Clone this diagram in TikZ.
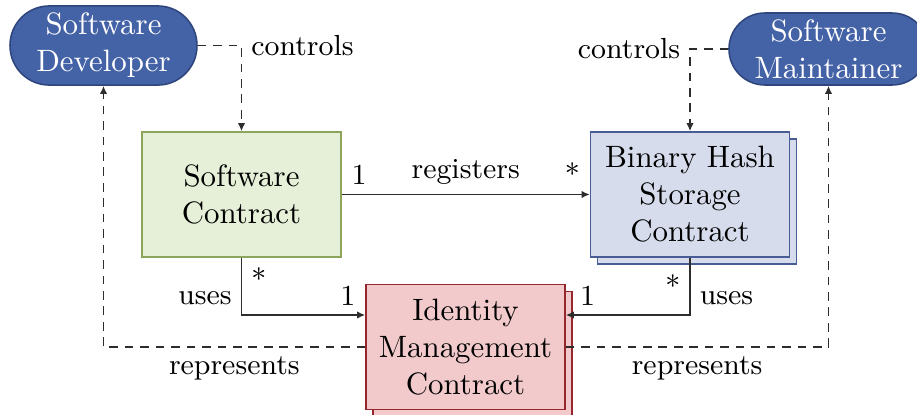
\documentclass[tikz,border=0pt]{standalone}
\usetikzlibrary{arrows.meta,calc,shadows}

\definecolor{actorfill}{RGB}{68,98,166}
\definecolor{actorline}{RGB}{47,69,125}
\definecolor{scfill}{RGB}{230,240,216}
\definecolor{scline}{RGB}{140,165,90}
\definecolor{bhfill}{RGB}{214,220,236}
\definecolor{bhline}{RGB}{72,92,150}
\definecolor{imfill}{RGB}{242,202,204}
\definecolor{imline}{RGB}{150,40,45}
\definecolor{wire}{RGB}{45,45,45}

\begin{document}
\begin{tikzpicture}[
  x=0.3236pt, y=-0.3236pt,
  actor/.style={draw=actorline, fill=actorfill, text=white, line width=0.5pt,
    align=center, inner sep=0pt},
  contract/.style={draw=#1line, fill=#1fill, line width=0.5pt, align=center,
    inner sep=0pt, minimum width=64.4pt, minimum height=40.45pt},
  stacked/.style={copy shadow={shadow xshift=2.27pt, shadow yshift=-2.27pt,
    fill=#1fill, draw=#1line, line width=0.5pt}},
  assoc/.style={draw=wire, line width=0.55pt, -{Latex[length=2.6pt,width=2.4pt]}},
  depends/.style={assoc, dash pattern=on 2.8pt off 2.2pt},
  lbl/.style={font=\fontsize{9.4}{11.3}\selectfont, inner sep=2.9pt},
]
\useasboundingbox (0,0) rectangle (917,415);

% actors
\node[actor, minimum width=60.5pt, minimum height=25.6pt, rounded corners=12.7pt]
  (dev) at (103.5,45.5) {Software\\Developer};
\node[actor, minimum width=64.4pt, minimum height=23.3pt, rounded corners=11.6pt]
  (mnt) at (828.5,49) {Software\\Maintainer};

% contracts
\node[contract=sc] (sc) at (241.5,194.5) {Software\\Contract};
\node[contract=bh, stacked=bh] (bh) at (690,194.5) {Binary Hash\\Storage\\Contract};
\node[contract=im, stacked=im] (im) at (465.5,347) {Identity\\Management\\Contract};

% associations
\draw[assoc] (sc.east) -- (bh.west)
  node[lbl, pos=0.5, above] {registers}
  node[lbl, at start, anchor=south west] {1}
  node[lbl, at end, anchor=south east] {*};

\draw[assoc] (sc.south) |- ($(im.west)+(0,-32)$)
  node[lbl, at start, anchor=north west] {*}
  node[lbl, pos=0.5, anchor=south east] {uses}
  node[lbl, at end, anchor=south east] {1};

\draw[assoc] (bh.south) |- ($(im.east)+(0,-32)$)
  node[lbl, at start, anchor=north east, yshift=-2.27pt] {*}
  node[lbl, pos=0.5, anchor=south west] {uses}
  node[lbl, at end, anchor=south west, xshift=1.5pt] {1};

% control and representation
\draw[depends] (dev.east) -| (sc.north)
  node[lbl, pos=0.5, anchor=west] {controls};
\draw[depends] (mnt.west) -| (bh.north)
  node[lbl, pos=0.5, anchor=east] {controls};
\draw[depends] (im.west) -| (dev.south)
  node[lbl, pos=0.25, below] {represents};
\draw[depends] (im.east) -| (mnt.south)
  node[lbl, pos=0.25, below] {represents};
\end{tikzpicture}
\end{document}
